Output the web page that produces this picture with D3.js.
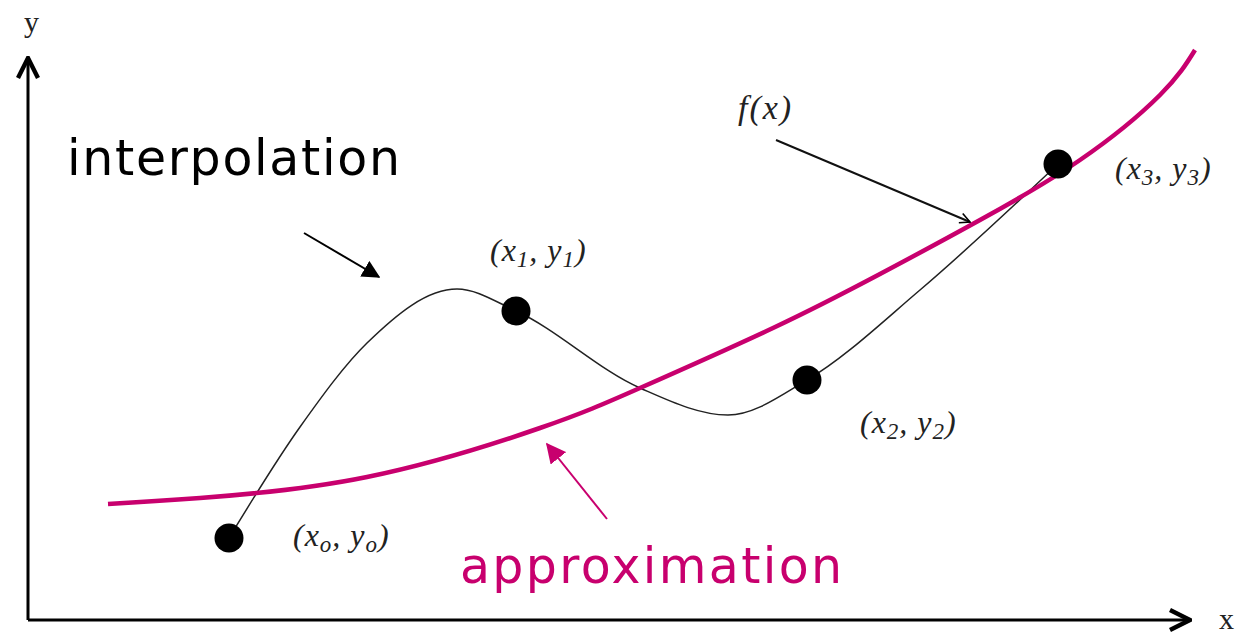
<!DOCTYPE html>
<html>
<head>
<meta charset="utf-8">
<script src="https://cdn.jsdelivr.net/npm/d3@7"></script>
<style>
  body { margin: 0; background: #fff; }
  svg { display: block; }
</style>
</head>
<body>
<svg id="chart" width="1245" height="635"></svg>
<script>
"use strict";

// data points (chart units, origin at axis corner)
var pointsX = [2.01, 4.88, 7.79, 10.30]
var pointsY = [0.82, 3.09, 2.40, 4.56]
var pointSubs = ["o", "1", "2", "3"]

// interpolating curve through the points
var interpX = [2.01, 2.72, 3.39, 4.29, 4.88, 6.12, 7.0, 7.79, 8.92, 10.30]
var interpY = [0.82, 1.93, 2.77, 3.31, 3.09, 2.32, 2.05, 2.40, 3.30, 4.56]

// approximating curve f(x)
var approxX = [0.80, 1.72, 3.39, 5.12, 6.12, 7.45, 8.52, 9.52, 10.52, 11.32, 11.67]
var approxY = [1.16, 1.22, 1.43, 1.92, 2.32, 2.92, 3.46, 4.00, 4.60, 5.25, 5.70]

var magenta = "#c8006e"
var svg = d3.select("#chart")

var x = d3.scaleLinear().domain([0, 11.6]).range([28, 1188])
var y = d3.scaleLinear().domain([0, 5.65]).range([620, 55])

var defs = svg.append("defs")
function marker(id, color, open, size) {
    var m = defs.append("marker")
        .attr("id", id)
        .attr("viewBox", "0 0 12 12")
        .attr("refX", 11).attr("refY", 6)
        .attr("markerWidth", size).attr("markerHeight", size)
        .attr("markerUnits", "userSpaceOnUse")
        .attr("orient", "auto")
    if (open) {
        m.append("path").attr("d", "M1,1 L11,6 L1,11")
            .attr("fill", "none").attr("stroke", color).attr("stroke-width", 1.6)
    } else {
        m.append("path").attr("d", "M0,0 L12,6 L0,12 Z").attr("fill", color)
    }
}
marker("headBig", "#000", true, 24)
defs.select("#headBig path").attr("stroke-width", 2.2)
marker("headOpen", "#000", true, 12)
marker("headFill", "#000", false, 18)
marker("headMag", magenta, false, 20)

// axes
svg.append("line")
    .attr("x1", x(0)).attr("y1", y(0)).attr("x2", x(0)).attr("y2", y(5.62))
    .attr("stroke", "#000").attr("stroke-width", 3)
    .attr("marker-end", "url(#headBig)")
svg.append("line")
    .attr("x1", x(0)).attr("y1", y(0)).attr("x2", x(11.62)).attr("y2", y(0))
    .attr("stroke", "#000").attr("stroke-width", 3)
    .attr("marker-end", "url(#headBig)")

svg.append("text").attr("x", 24).attr("y", 32)
    .attr("font-family", "Liberation Serif").attr("font-size", 30).attr("fill", "#222").text("y")
svg.append("text").attr("x", 1219).attr("y", 629)
    .attr("font-family", "Liberation Serif").attr("font-size", 30).attr("fill", "#222").text("x")

// curves
svg.append("path")
    .datum(d3.zip(interpX, interpY))
    .attr("d", d3.line().x(d => x(d[0])).y(d => y(d[1])).curve(d3.curveMonotoneX))
    .attr("fill", "none").attr("stroke", "#222").attr("stroke-width", 1.5)

svg.append("path")
    .datum(d3.zip(approxX, approxY))
    .attr("d", d3.line().x(d => x(d[0])).y(d => y(d[1])).curve(d3.curveNatural))
    .attr("fill", "none").attr("stroke", magenta).attr("stroke-width", 4.5)

// points
svg.selectAll("circle.pt")
    .data(d3.zip(pointsX, pointsY))
    .join("circle")
    .attr("class", "pt")
    .attr("cx", d => x(d[0])).attr("cy", d => y(d[1]))
    .attr("r", 14.5).attr("fill", "#000")

// point labels
var labelPos = [[293, 546], [490, 261], [860, 433], [1115, 179]]
pointSubs.forEach(function (s, i) {
    var t = svg.append("text")
        .attr("x", labelPos[i][0]).attr("y", labelPos[i][1])
        .attr("font-family", "Liberation Serif").attr("font-style", "italic")
        .attr("font-size", 32).attr("letter-spacing", 1).attr("fill", "#222")
    t.append("tspan").text("(x")
    t.append("tspan").attr("font-size", 23).attr("dy", 6).text(s)
    t.append("tspan").attr("dy", -6).text(", y")
    t.append("tspan").attr("font-size", 23).attr("dy", 6).text(s)
    t.append("tspan").attr("dy", -6).text(")")
})

svg.append("text").attr("x", 738).attr("y", 119)
    .attr("font-family", "Liberation Serif").attr("font-style", "italic")
    .attr("font-size", 34).attr("letter-spacing", 2).attr("fill", "#222").text("f(x)")

// annotation arrows
svg.append("line")
    .attr("x1", 776).attr("y1", 140).attr("x2", 970).attr("y2", 222)
    .attr("stroke", "#111").attr("stroke-width", 2)
    .attr("marker-end", "url(#headOpen)")
svg.append("line")
    .attr("x1", 304).attr("y1", 233).attr("x2", 379).attr("y2", 277)
    .attr("stroke", "#000").attr("stroke-width", 2)
    .attr("marker-end", "url(#headFill)")
svg.append("line")
    .attr("x1", 607).attr("y1", 519).attr("x2", 547).attr("y2", 444)
    .attr("stroke", magenta).attr("stroke-width", 2)
    .attr("marker-end", "url(#headMag)")

// big labels
svg.append("text").attr("x", 67).attr("y", 175)
    .attr("font-family", "DejaVu Sans").attr("font-size", 49)
    .attr("textLength", 333).attr("lengthAdjust", "spacing")
    .attr("fill", "#000").text("interpolation")
svg.append("text").attr("x", 460).attr("y", 583)
    .attr("font-family", "DejaVu Sans").attr("font-size", 49)
    .attr("textLength", 382).attr("lengthAdjust", "spacing")
    .attr("fill", magenta).text("approximation")
</script>
</body>
</html>
